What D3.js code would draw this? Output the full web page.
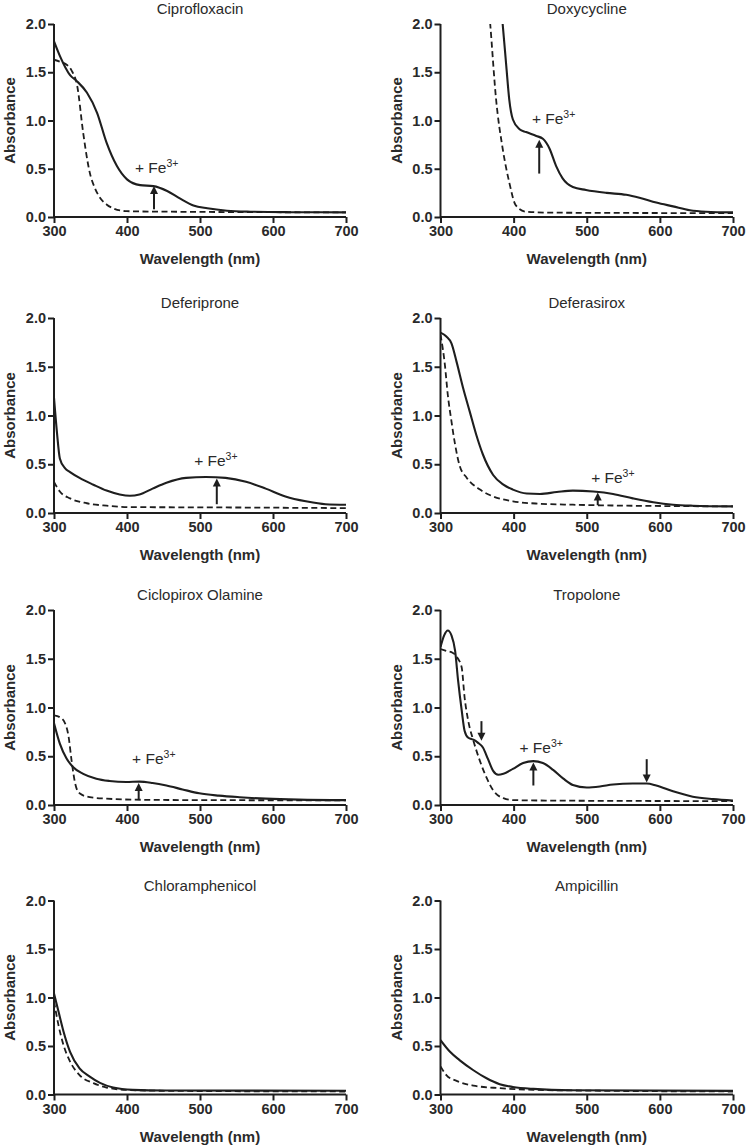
<!DOCTYPE html>
<html><head><meta charset="utf-8">
<script src="https://cdn.jsdelivr.net/npm/d3@7"></script>
<style>
body{margin:0;background:#fff;}
svg{display:block;font-family:"Liberation Sans",Arial,sans-serif;}
</style></head>
<body><svg id="c" width="746" height="1148"></svg>
<script>
// ---- data ----
const titles = ["Ciprofloxacin","Doxycycline","Deferiprone","Deferasirox","Ciclopirox Olamine","Tropolone","Chloramphenicol","Ampicillin"];
const xTicks = [300,400,500,600,700];
const yTicks = [0,0.5,1.0,1.5,2.0];

const ciproFe = [[300,1.82],[308,1.67],[322,1.47],[331,1.41],[345,1.29],[359,1.08],[372,0.77],[386,0.53],[400,0.39],[418,0.33],[436,0.32],[455,0.27],[473,0.19],[491,0.12],[510,0.09],[537,0.065],[569,0.055],[620,0.05],[700,0.048]];
const ciproFree = [[300,1.63],[308,1.61],[317,1.58],[324,1.52],[332,1.35],[340,0.87],[349,0.46],[356,0.30],[363,0.20],[372,0.13],[381,0.09],[400,0.06],[455,0.055],[700,0.048]];
const doxyFe = [[375,2.6],[385,2.0],[390,1.56],[394,1.22],[399,1.01],[408,0.91],[417,0.88],[431,0.84],[440,0.81],[449,0.71],[458,0.53],[467,0.40],[481,0.31],[499,0.28],[527,0.25],[554,0.23],[572,0.20],[595,0.15],[618,0.11],[641,0.07],[663,0.055],[700,0.048]];
const doxyFree = [[360,2.7],[368,2.0],[376,1.22],[385,0.71],[394,0.36],[403,0.12],[417,0.055],[450,0.045],[700,0.04]];
const deferiproneFe = [[300,1.18],[304,0.83],[308,0.56],[315,0.46],[322,0.42],[335,0.36],[354,0.29],[372,0.23],[390,0.19],[404,0.177],[417,0.19],[435,0.25],[454,0.31],[481,0.36],[508,0.37],[535,0.36],[563,0.32],[590,0.25],[617,0.17],[645,0.12],[672,0.09],[700,0.085]];
const deferiproneFree = [[300,0.32],[308,0.22],[322,0.15],[345,0.10],[372,0.075],[408,0.06],[500,0.058],[700,0.05]];
const deferasiroxFe = [[300,1.85],[308,1.81],[315,1.74],[322,1.55],[331,1.28],[340,1.04],[349,0.80],[358,0.60],[372,0.39],[386,0.29],[399,0.24],[418,0.20],[436,0.195],[459,0.215],[481,0.23],[509,0.22],[536,0.195],[563,0.15],[591,0.11],[618,0.085],[645,0.075],[700,0.068]];
const deferasiroxFree = [[300,1.83],[306,1.52],[310,1.21],[315,0.94],[320,0.70],[326,0.49],[336,0.36],[354,0.24],[372,0.17],[399,0.12],[436,0.095],[481,0.085],[527,0.078],[700,0.068]];
const ciclopiroxFe = [[300,0.84],[308,0.63],[317,0.48],[326,0.39],[340,0.32],[358,0.27],[376,0.247],[399,0.236],[417,0.24],[435,0.226],[454,0.20],[476,0.16],[499,0.12],[526,0.096],[554,0.08],[590,0.065],[635,0.055],[700,0.05]];
const ciclopiroxFree = [[300,0.92],[308,0.90],[315,0.84],[320,0.70],[324,0.46],[329,0.22],[335,0.12],[349,0.08],[372,0.065],[408,0.055],[500,0.05],[700,0.048]];
const tropoloneFe = [[300,1.62],[305,1.74],[310,1.79],[315,1.74],[320,1.58],[324,1.28],[329,0.97],[333,0.76],[338,0.69],[345,0.67],[351,0.64],[358,0.59],[365,0.47],[372,0.35],[379,0.31],[386,0.32],[399,0.37],[413,0.43],[427,0.45],[440,0.43],[454,0.36],[468,0.27],[481,0.205],[500,0.18],[518,0.19],[536,0.21],[563,0.22],[582,0.22],[595,0.20],[618,0.14],[645,0.085],[673,0.06],[700,0.045]];
const tropoloneFree = [[300,1.60],[308,1.58],[317,1.56],[324,1.50],[329,1.41],[333,1.10],[338,0.86],[345,0.66],[354,0.45],[363,0.28],[372,0.15],[386,0.07],[399,0.05],[480,0.044],[700,0.04]];
const chloramFe = [[300,1.04],[306,0.86],[313,0.65],[322,0.44],[335,0.27],[349,0.185],[363,0.12],[381,0.072],[408,0.048],[454,0.041],[700,0.038]];
const chloramFree = [[300,0.96],[306,0.72],[313,0.51],[322,0.34],[335,0.20],[354,0.117],[372,0.072],[399,0.048],[454,0.038],[700,0.031]];
const ampiFe = [[300,0.56],[313,0.44],[326,0.355],[345,0.25],[363,0.167],[381,0.106],[399,0.078],[427,0.058],[481,0.044],[700,0.037]];
const ampiFree = [[300,0.29],[308,0.20],[322,0.14],[345,0.092],[381,0.065],[427,0.048],[500,0.04],[700,0.031]];

// arrows: [wavelength, from, to]
const ciproArrows = [[437,0.08,0.32]];
const doxyArrows = [[435,0.45,0.80]];
const deferiproneArrows = [[523,0.09,0.355]];
const deferasiroxArrows = [[515,0.08,0.21]];
const ciclopiroxArrows = [[416,0.055,0.225]];
const tropoloneArrows = [[356,0.86,0.66],[427,0.20,0.435],[582,0.47,0.23]];
// labels: [wavelength (start), absorbance (baseline)]
const feLabels = [[411,0.46],[425,0.96],[492,0.48],[506,0.31],[407,0.42],[408,0.53],null,null];

const feSeries = [ciproFe,doxyFe,deferiproneFe,deferasiroxFe,ciclopiroxFe,tropoloneFe,chloramFe,ampiFe];
const freeSeries = [ciproFree,doxyFree,deferiproneFree,deferasiroxFree,ciclopiroxFree,tropoloneFree,chloramFree,ampiFree];
const arrowSets = [ciproArrows,doxyArrows,deferiproneArrows,deferasiroxArrows,ciclopiroxArrows,tropoloneArrows,[],[]];

// ---- layout ----
const colX = [[54,346],[440.5,733]];
const rowY = [[24,217],[318,513],[610,805],[900.5,1094.5]];
const ink = "#1e1e1e";
const svg = d3.select("#c");

titles.forEach((t,i)=>{
  const col = i%2, row = Math.floor(i/2);
  const x = d3.scaleLinear().domain([300,700]).range(colX[col]);
  const y = d3.scaleLinear().domain([0,2]).range([rowY[row][1],rowY[row][0]]);
  const g = svg.append("g");
  const clipId = "clip"+i;
  g.append("clipPath").attr("id",clipId).append("rect")
    .attr("x",x(300)).attr("y",y(2)).attr("width",x(700)-x(300)).attr("height",y(0)-y(2));

  const line = d3.line().x(d=>x(d[0])).y(d=>y(d[1])).curve(d3.curveMonotoneX);
  g.append("path").datum(freeSeries[i]).attr("d",line).attr("clip-path",`url(#${clipId})`)
    .attr("fill","none").attr("stroke",ink).attr("stroke-width",1.8).attr("stroke-dasharray","6,3.5");
  g.append("path").datum(feSeries[i]).attr("d",line).attr("clip-path",`url(#${clipId})`)
    .attr("fill","none").attr("stroke",ink).attr("stroke-width",2.1);

  // axes
  const xa = g.append("g").attr("transform",`translate(0,${y(0)})`)
    .call(d3.axisBottom(x).tickValues(xTicks).tickSize(6).tickPadding(3).tickFormat(d3.format("d")));
  const ya = g.append("g").attr("transform",`translate(${x(300)},0)`)
    .call(d3.axisLeft(y).tickValues(yTicks).tickSize(6).tickPadding(2).tickFormat(d3.format(".1f")));
  [xa,ya].forEach(a=>{
    a.select(".domain").attr("stroke",ink).attr("stroke-width",2);
    a.selectAll(".tick line").attr("stroke",ink).attr("stroke-width",2);
    a.selectAll(".tick text").attr("fill","#2a2a2a").attr("font-size",14.5).attr("font-weight","bold")
      .attr("font-family","Liberation Sans, Arial, sans-serif");
  });
  ya.select(".domain").attr("d",`M0,${y(0)}V${y(2)}`);
  xa.select(".domain").attr("d",`M${x(300)},0H${x(700)}`);

  // title
  g.append("text").attr("x",(x(300)+x(700))/2).attr("y",y(2)-10)
    .attr("text-anchor","middle").attr("font-size",15).attr("fill","#2a2a2a").text(t);
  // axis labels
  g.append("text").attr("x",(x(300)+x(700))/2).attr("y",y(0)+47)
    .attr("text-anchor","middle").attr("font-size",15).attr("font-weight","bold").attr("fill","#2a2a2a")
    .text("Wavelength (nm)");
  g.append("text").attr("transform",`translate(${x(300)-39},${(y(0)+y(2))/2}) rotate(-90)`)
    .attr("text-anchor","middle").attr("font-size",15).attr("font-weight","bold").attr("fill","#2a2a2a")
    .text("Absorbance");

  // arrows
  arrowSets[i].forEach(a=>{
    const ax = x(a[0]), y1 = y(a[1]), y2 = y(a[2]);
    const dir = y2 < y1 ? 1 : -1; // 1: pointing up
    const headLen = 8, headW = 4;
    g.append("line").attr("x1",ax).attr("x2",ax).attr("y1",y1).attr("y2",y2+dir*headLen*0.8)
      .attr("stroke",ink).attr("stroke-width",2);
    g.append("path").attr("d",`M${ax},${y2}L${ax-headW},${y2+dir*headLen}L${ax+headW},${y2+dir*headLen}Z`)
      .attr("fill",ink);
  });
  // Fe label
  if(feLabels[i]){
    const tx = g.append("text").attr("x",x(feLabels[i][0])).attr("y",y(feLabels[i][1]))
      .attr("font-size",15.5).attr("fill","#2a2a2a");
    tx.append("tspan").text("+ Fe");
    tx.append("tspan").attr("font-size",10.5).attr("dy",-6).text("3+");
  }
});
</script></body></html>
